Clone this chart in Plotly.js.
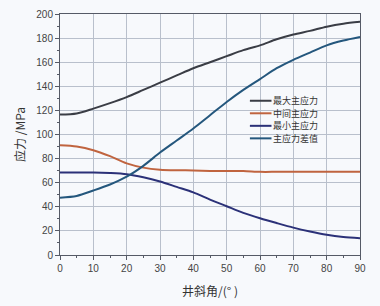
<!DOCTYPE html>
<html>
<head>
<meta charset="utf-8">
<script src="https://cdn.plot.ly/plotly-3.0.1.min.js"></script>
<style>html,body{margin:0;padding:0;background:#f7f9fc;}</style>
</head>
<body>
<div id="chart" style="width:380px;height:306px;"></div>
<script>
const angles = [0,5,10,15,20,25,30,35,40,45,50,55,60,65,70,75,80,85,90];
const maxStress = [116.5,117.5,121.5,126,131,137,143,149,155,160,165,170,174,179,183,186,189.5,192,193.5];
const midStress = [91,90,87,82,76,72.5,70.8,70.3,70.2,69.8,69.7,69.7,69,69,69,69,69,69,69];
const minStress = [68.5,68.5,68.5,68,67,64.5,61,56.5,52,46,40.5,35,30.5,26.5,22.7,19.5,16.8,15,14];
const diffStress = [47.6,49,53.5,58.5,65,74,85,95,105,116,127,137,146,155,162,168,174,178,181];
const seriesNames = ['最大主应力','中间主应力','最小主应力','主应力差值'];
const xTicks = [0,10,20,30,40,50,60,70,80,90];
const yTicks = [0,20,40,60,80,100,120,140,160,180,200];

const colors = ['#3a3d45','#c0643f','#2b3178','#24577d'];
const series = [maxStress, midStress, minStress, diffStress];
const traces = series.map((s,i)=>({
  x: angles, y: s, name: seriesNames[i], type:'scatter', mode:'lines',
  line:{color:colors[i], width:2, shape:'spline', smoothing:0.8}
}));

// custom compact legend (layout decoration in paper coordinates)
const legX0 = 0.633, legX1 = 0.705, legTextX = 0.707;
const legY0 = 0.64, legStep = 0.052;
const shapes = [];
const annotations = [];
seriesNames.forEach((n,i)=>{
  const yy = legY0 - i*legStep;
  shapes.push({type:'line', xref:'paper', yref:'paper', x0:legX0, x1:legX1, y0:yy, y1:yy,
               line:{color:colors[i], width:2}});
  annotations.push({xref:'paper', yref:'paper', x:legTextX, y:yy, xanchor:'left', yanchor:'middle',
               text:n, showarrow:false, borderpad:0,
               font:{family:'Noto Sans CJK SC, sans-serif', size:9, color:'#333'}});
});

const axisCommon = {
  showline:true, linecolor:'#555a66', linewidth:1, mirror:true,
  showgrid:true, gridcolor:'#b9c0cc', gridwidth:1,
  ticks:'outside', ticklen:4, tickcolor:'#555a66',
  zeroline:false,
  tickfont:{family:'Liberation Sans, Arial, sans-serif', size:10, color:'#444'}
};

const layout = {
  width:380, height:306,
  margin:{l:60, r:20, t:14, b:51},
  paper_bgcolor:'#f7f9fc', plot_bgcolor:'#f7f9fc',
  showlegend:false,
  shapes: shapes,
  annotations: annotations,
  xaxis: Object.assign({}, axisCommon, {
    range:[0,90], tickvals:xTicks, ticktext:xTicks.map(String),
    minor:{ticks:'outside', ticklen:2, tickcolor:'#555a66', dtick:5, showgrid:false},
    title:{text:'井斜角/(° )', standoff:14, font:{family:'Noto Sans CJK SC, serif', size:12, color:'#333'}}
  }),
  yaxis: Object.assign({}, axisCommon, {
    range:[0,200], tickvals:yTicks, ticktext:yTicks.map(String),
    minor:{ticks:'outside', ticklen:2, tickcolor:'#555a66', dtick:10, showgrid:false},
    title:{text:'应力 /MPa', standoff:8, font:{family:'Noto Sans CJK SC, serif', size:12, color:'#333'}}
  })
};

Plotly.newPlot('chart', traces, layout, {displayModeBar:false, staticPlot:true});
</script>
</body>
</html>
